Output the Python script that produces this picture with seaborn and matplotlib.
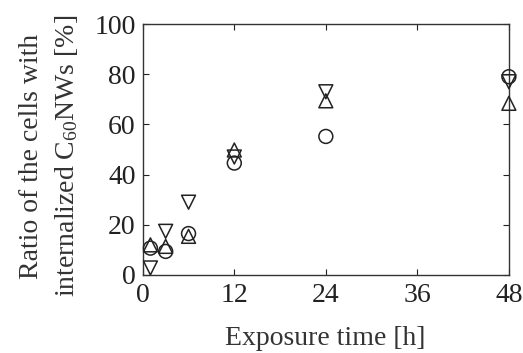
import matplotlib
matplotlib.use("Agg")
import matplotlib.pyplot as plt
import seaborn as sns
import pandas as pd

hours = [1, 3, 6, 12, 24, 48]
circle_vals = [10.7, 9.4, 16.5, 44.6, 55.2, 79.0]
up_vals = [12.0, 11.4, 15.4, 49.8, 69.4, 68.4]
down_vals = [2.8, 17.4, 29.0, 47.0, 73.0, 77.0]
x_ticks = [0, 12, 24, 36, 48]
y_ticks = [0, 20, 40, 60, 80, 100]

sns.set_theme(style="ticks")
plt.rcParams["font.family"] = ["Liberation Serif", "DejaVu Serif"]
plt.rcParams["mathtext.fontset"] = "custom"
plt.rcParams["mathtext.rm"] = "Liberation Serif"
plt.rcParams["mathtext.it"] = "Liberation Serif:italic"

fig = plt.figure(figsize=(5.23, 3.53), dpi=100)
ax = fig.add_axes([0.273, 0.221, 0.700, 0.711])

for vals, m in [(circle_vals, "o"), (up_vals, "^"), (down_vals, "v")]:
    df = pd.DataFrame({"h": hours, "v": vals})
    sns.scatterplot(data=df, x="h", y="v", marker=m, s=100, facecolor="none",
                    edgecolor="#222222", linewidth=1.1, ax=ax, clip_on=False, zorder=3)

ax.set_xlim(0, 48)
ax.set_ylim(0, 100)
ax.set_xticks(x_ticks)
ax.set_yticks(y_ticks)
ax.tick_params(direction="in", top=True, right=True, length=4, width=0.8,
               labelsize=20, colors="#222222")
ax.tick_params(axis="y", pad=5)
ax.tick_params(axis="x", pad=6)
for sp in ax.spines.values():
    sp.set_linewidth(1.0)
    sp.set_color("#333333")
ax.set_xlabel("Exposure time [h]", fontsize=20, color="#333333")
ax.set_ylabel("Ratio of the cells with\ninternalized C$_{60}$NWs [%]", fontsize=20,
              color="#333333", linespacing=1.4)
ax.xaxis.set_label_coords(0.497, -0.205)
ax.yaxis.set_label_coords(-0.172, 0.474)

fig.savefig("out.png", dpi=100)
